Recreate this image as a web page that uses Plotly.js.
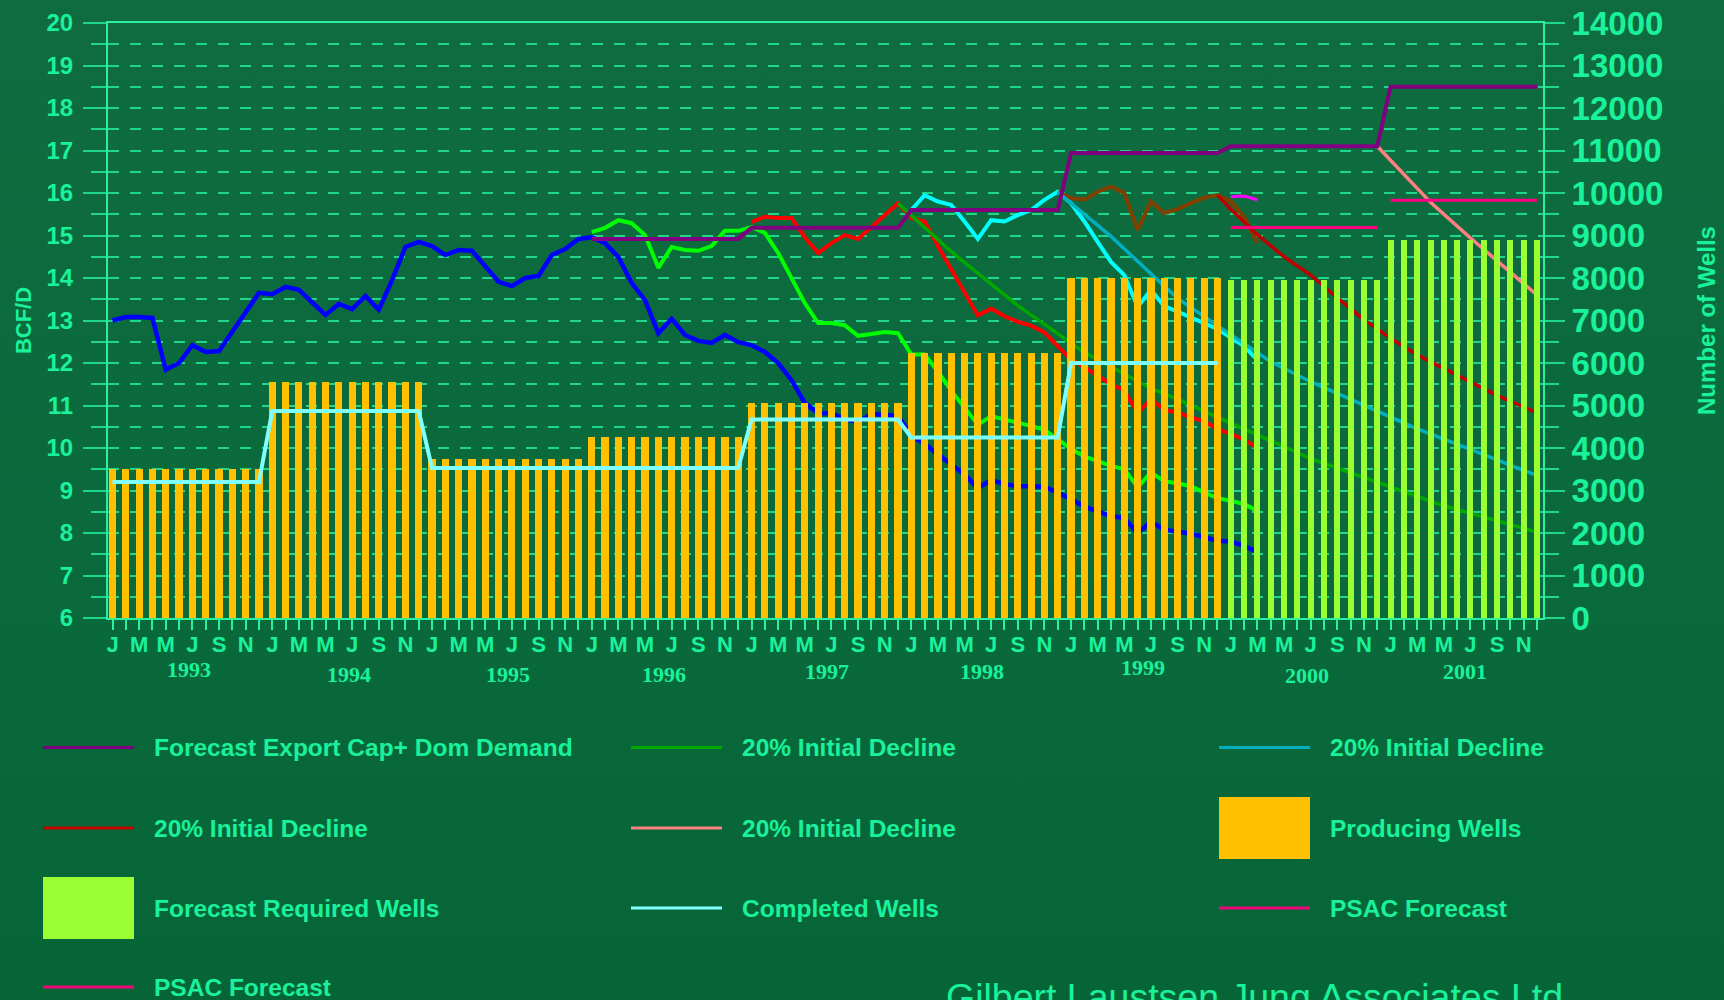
<!DOCTYPE html>
<html>
<head>
<meta charset="utf-8">
<script src="https://cdn.plot.ly/plotly-3.0.1.min.js"></script>
<style>
html,body{margin:0;padding:0;width:1724px;height:1000px;overflow:hidden;
  background:linear-gradient(to bottom,#0F6C40 0%,#0A6A3C 55%,#066536 100%);}
#chart{width:1724px;height:1000px;}
</style>
</head>
<body>
<div id="chart"></div>
<script>
// ================= DATA =================
const years = [1993, 1994, 1995, 1996, 1997, 1998, 1999, 2000, 2001];
const monthLetters = ['J','F','M','A','M','J','J','A','S','O','N','D'];
// month index 0 = January 1993, 107 = December 2001

// Number of wells (right axis)
const producingWells = [
  3500,3500,3500,3500,3500,3500,3500,3500,3500,3500,3500,3500,
  5560,5560,5560,5560,5560,5560,5560,5560,5560,5560,5560,5560,
  3730,3730,3730,3730,3730,3730,3730,3730,3730,3730,3730,3730,
  4270,4270,4270,4270,4270,4270,4270,4270,4270,4270,4270,4270,
  5060,5060,5060,5060,5060,5060,5060,5060,5060,5060,5060,5060,
  6230,6230,6230,6230,6230,6230,6230,6230,6230,6230,6230,6230,
  8000,8000,8000,8000,8000,8000,8000,8000,8000,8000,8000,8000
];
const producingStart = 0;
const forecastWells = [
  7950,7950,7950,7950,7950,7950,7950,7950,7950,7950,7950,7950,
  8890,8890,8890,8890,8890,8890,8890,8890,8890,8890,8890,8890
];
const forecastStart = 84;
const completedMonths = [0, 11, 12, 23, 24, 47, 48, 59, 60, 71, 72, 83];
const completedWells  = [3200,3200,4870,4870,3530,3530,4670,4670,4250,4250,6000,6000];

// BCF/D (left axis)
const blueStart = 0;
const blueValues = [
  13.0,13.08,13.08,13.06,11.84,12.0,12.42,12.26,12.28,12.73,13.18,13.65,
  13.62,13.79,13.72,13.44,13.13,13.39,13.27,13.58,13.25,13.95,14.73,14.85,
  14.75,14.54,14.66,14.64,14.26,13.91,13.81,14.0,14.05,14.54,14.68,14.92,
  14.96,14.82,14.49,13.88,13.48,12.7,13.04,12.66,12.52,12.47,12.66,12.49,
  12.42,12.26,12.0,11.6,11.06,10.82,10.82,10.68,10.61,10.8,10.78,10.75,
  10.3,10.1,9.85,9.62,9.38,9.05,9.25,9.15,9.1,9.1,9.09,8.95,
  8.8,8.62,8.5,8.4,8.35,7.99,8.27,8.08,8.03,7.99,7.9,7.82,
  7.8,7.7,7.55
];
const greenStart = 36;
const greenValues = [
  15.08,15.18,15.36,15.29,15.01,14.24,14.73,14.66,14.64,14.75,15.11,15.11,
  15.2,15.06,14.59,14.02,13.41,12.94,12.94,12.89,12.64,12.68,12.73,12.7,
  12.2,12.2,11.8,11.35,10.95,10.55,10.75,10.68,10.6,10.52,10.43,10.2,
  9.98,9.8,9.68,9.58,9.5,9.08,9.42,9.22,9.17,9.1,8.95,8.82,
  8.76,8.68,8.52
];
const redStart = 48;
const redValues = [
  15.32,15.44,15.41,15.41,14.96,14.59,14.82,15.01,14.92,15.2,15.48,15.76,
  15.41,15.33,14.75,14.2,13.65,13.12,13.28,13.1,12.97,12.88,12.72,12.4,
  12.08,11.9,11.7,11.5,11.36,10.82,11.15,10.9,10.83,10.72,10.62,10.45,
  10.33,10.2,10.0
];
const cyanStart = 60;
const cyanValues = [
  15.6,15.95,15.8,15.72,15.33,14.92,15.36,15.33,15.48,15.6,15.84,16.03,
  15.76,15.33,14.85,14.38,14.07,13.32,13.72,13.34,13.21,13.08,12.95,12.8,
  12.6,12.4,12.07
];
const brownStart = 71;
const brownValues = [
  16.03,15.88,15.84,16.03,16.15,16.0,15.13,15.8,15.53,15.62,15.76,15.89,
  15.95,15.8,15.44,14.82
];
const demandMonths = [36, 47, 48, 59, 60, 71, 72, 83, 84, 95, 96, 107];
const demandValues = [14.92,14.92,15.18,15.18,15.6,15.6,16.94,16.94,17.1,17.1,18.5,18.5];

const declineGreenMonths = [59, 63, 68, 73, 78, 80, 83, 85, 88, 90, 95, 100, 107];
const declineGreenValues = [15.76,14.62,13.35,12.25,11.4,11.15,10.72,10.45,10.03,9.75,9.19,8.64,8.02];
const declineTealMonths  = [71, 75, 78, 80, 83, 87, 90, 94, 98, 102, 107];
const declineTealValues  = [16.02,14.98,14.1,13.52,12.88,12.03,11.56,11.0,10.45,9.97,9.35];
const declineRedMonths   = [83, 84, 86, 88, 90, 92, 94, 96, 98, 100, 102, 104, 107];
const declineRedValues   = [15.95,15.62,15.02,14.5,14.07,13.53,13.02,12.58,12.19,11.87,11.56,11.24,10.83];
const declineSalmonMonths = [95, 99, 102, 107];
const declineSalmonValues = [17.1,15.78,14.94,13.6];

const psac2000Months = [84, 95];
const psac2000Values = [15.19, 15.19];
const psac2001Months = [96, 107];
const psac2001Values = [15.83, 15.83];
const magentaMonths = [84, 85, 86];
const magentaValues = [15.91, 15.93, 15.84];

const leftTicks = [6,7,8,9,10,11,12,13,14,15,16,17,18,19,20];
const rightTicks = [0,1000,2000,3000,4000,5000,6000,7000,8000,9000,10000,11000,12000,13000,14000];

const legendNames = [
  'Forecast Export Cap+ Dom Demand', '20% Initial Decline', '20% Initial Decline',
  '20% Initial Decline', '20% Initial Decline', 'Producing Wells',
  'Forecast Required Wells', 'Completed Wells', 'PSAC Forecast',
  'PSAC Forecast'
];
const creditText = 'Gilbert Laustsen Jung Associates Ltd.';

// ================= STYLE / LAYOUT =================
const TXT = '#19F29B';
const GRID = '#1FD68C';
const AXIS = '#2CEFA0';
const FONT = 'Arial, "Liberation Sans", sans-serif';
const SERIF = '"Liberation Serif", "Times New Roman", serif';

const PL = 108, PR = 1543, PT = 23, PB = 618;
const px2x = px => (px - PL) / (PR - PL);
const px2y = py => (PB - py) / (PB - PT);

const seq = (start, arr) => arr.map((_, k) => start + k);

const legendColors = ['#800080','#00A800','#00B0C0','#C00000','#FF8080','#FFC000','#99FF33','#80FFFF','#F0087A','#F0087A'];
const legendKinds  = ['line','line','line','line','line','box','box','line','line','line'];

function lineTrace(x, y, color, width, name) {
  return {type:'scatter', mode:'lines', x:x, y:y, name:name, yaxis:'y', xaxis:'x',
          line:{color:color, width:width}, showlegend:false, hoverinfo:'skip'};
}

const traces = [
  lineTrace(seq(blueStart, blueValues), blueValues, '#0000FF', 4.5, 'Actual'),
  lineTrace(seq(greenStart, greenValues), greenValues, '#00FF00', 4, '1996'),
  lineTrace(seq(redStart, redValues), redValues, '#FF0000', 4, '1997'),
  lineTrace(seq(cyanStart, cyanValues), cyanValues, '#00FFFF', 4, '1998'),
  lineTrace(seq(brownStart, brownValues), brownValues, '#804000', 4, '1999'),
  lineTrace(declineRedMonths, declineRedValues, '#C00000', 3.5, legendNames[3]),
  lineTrace(declineTealMonths, declineTealValues, '#00B0C0', 3.5, legendNames[2]),
  lineTrace(declineGreenMonths, declineGreenValues, '#00A800', 3.5, legendNames[1]),
  lineTrace(declineSalmonMonths, declineSalmonValues, '#FF8080', 3.5, legendNames[4]),
  lineTrace(demandMonths, demandValues, '#800080', 4, legendNames[0]),
  lineTrace(psac2000Months, psac2000Values, '#FF0080', 3, legendNames[8]),
  lineTrace(psac2001Months, psac2001Values, '#FF0080', 3, legendNames[9]),
  lineTrace(magentaMonths, magentaValues, '#FF00FF', 3, 'PSAC'),
  {type:'bar', x:seq(producingStart, producingWells), y:producingWells, yaxis:'y2', xaxis:'x',
   width:0.54, marker:{color:'#FFC000', line:{width:0}}, name:legendNames[5], showlegend:false, hoverinfo:'skip'},
  {type:'bar', x:seq(forecastStart, forecastWells), y:forecastWells, yaxis:'y2', xaxis:'x',
   width:0.45, marker:{color:'#99FF33', line:{width:0}}, name:legendNames[6], showlegend:false, hoverinfo:'skip'},
  {type:'scatter', mode:'lines', x:completedMonths, y:completedWells, yaxis:'y2', xaxis:'x',
   line:{color:'#80FFFF', width:4}, name:legendNames[7], showlegend:false, hoverinfo:'skip'}
];

// x ticks: one per month, letter every other month
const nMonths = years.length * 12;
const tickvals = [], ticktext = [];
for (let k = 0; k < nMonths; k++) {
  tickvals.push(k);
  ticktext.push(k % 2 === 0 ? monthLetters[k % 12] : '');
}

// Year labels (positions are layout, not data)
const yearLabelX = [5.75, 17.76, 29.71, 41.43, 53.67, 65.3, 77.4, 89.7, 101.6];
const yearLabelPy = [669, 674, 674, 674, 671, 671, 667, 675, 672];
const annotations = years.map((yr, k) => ({
  x: yearLabelX[k], xref:'x', y: px2y(yearLabelPy[k]), yref:'paper',
  text: String(yr), showarrow:false, xanchor:'center', yanchor:'middle',
  font:{family:SERIF, size:22, color:TXT, weight:'bold'}
}));

// Legend (3 columns)
const shapes = [];
const colSym = [43, 631, 1219];
const rowPy = [747.5, 828, 908, 987];
legendNames.forEach((nm, k) => {
  const c = k % 3, r = Math.floor(k / 3);
  const x0 = colSym[c], x1 = colSym[c] + 91, yc = rowPy[r];
  if (legendKinds[k] === 'line') {
    shapes.push({type:'line', xref:'paper', yref:'paper', x0:px2x(x0), x1:px2x(x1),
      y0:px2y(yc), y1:px2y(yc), line:{color:legendColors[k], width:3}});
  } else {
    shapes.push({type:'rect', xref:'paper', yref:'paper', x0:px2x(x0), x1:px2x(x1),
      y0:px2y(yc - 31), y1:px2y(yc + 31), fillcolor:legendColors[k], line:{width:0}});
  }
  const ann = {x:px2x(x0 + 109), xref:'paper', y:px2y(yc), yref:'paper',
    text:nm, showarrow:false, xanchor:'left', yanchor:'middle',
    font:{family:FONT, size:24.5, color:TXT, weight:'bold'}};
  if (r === 3) { ann.height = 24; ann.valign = 'middle'; }
  annotations.push(ann);
});

annotations.push({x:px2x(944), xref:'paper', y:px2y(997), yref:'paper',
  text:creditText, showarrow:false, xanchor:'left', yanchor:'middle',
  font:{family:FONT, size:37.5, color:TXT}});

const layout = {
  width:1724, height:1000, autosize:false,
  margin:{l:PL, r:1724-PR, t:PT, b:1000-PB, pad:0},
  paper_bgcolor:'rgba(0,0,0,0)', plot_bgcolor:'rgba(0,0,0,0)',
  showlegend:false, barmode:'overlay', bargap:0,
  font:{family:FONT, color:TXT},
  xaxis:{range:[-0.338, 107.45], tickmode:'array', tickvals:tickvals, ticktext:ticktext,
    ticks:'outside', ticklen:10, tickwidth:2, tickcolor:AXIS, ticklabelstandoff:-4,
    showline:true, linecolor:AXIS, linewidth:2, mirror:true,
    showgrid:false, zeroline:false,
    tickfont:{family:FONT, size:22, color:TXT, weight:'bold'}},
  yaxis:{range:[6,20], tickmode:'array', tickvals:leftTicks,
    ticks:'outside', ticklen:23, tickwidth:2, tickcolor:GRID, ticklabelstandoff:5,
    showline:true, linecolor:AXIS, linewidth:2,
    showgrid:true, gridcolor:GRID, gridwidth:2, griddash:'11px,11px',
    zeroline:false,
    minor:{dtick:0.5, ticks:'outside', ticklen:15, tickwidth:2, tickcolor:GRID,
           showgrid:true, gridcolor:GRID, gridwidth:2, griddash:'11px,11px'},
    tickfont:{family:FONT, size:24, color:TXT, weight:'bold'},
    title:{text:'BCF/D', standoff:9, font:{family:FONT, size:22, color:TXT, weight:'bold'}}},
  yaxis2:{range:[0,14000], overlaying:'y', side:'right', tickmode:'array', tickvals:rightTicks,
    tickformat:'d', separatethousands:false, exponentformat:'none',
    ticks:'outside', ticklen:20, tickwidth:2, tickcolor:GRID,
    showline:true, linecolor:AXIS, linewidth:2,
    showgrid:false, zeroline:false,
    minor:{dtick:500, ticks:'outside', ticklen:14, tickwidth:2, tickcolor:GRID, showgrid:false},
    tickfont:{family:FONT, size:33, color:TXT, weight:'bold'},
    title:{text:'Number of Wells', standoff:36, font:{family:FONT, size:24, color:TXT, weight:'bold'}}},
  annotations:annotations,
  shapes:shapes
};

Plotly.newPlot('chart', traces, layout, {displayModeBar:false, staticPlot:true});
</script>
</body>
</html>
